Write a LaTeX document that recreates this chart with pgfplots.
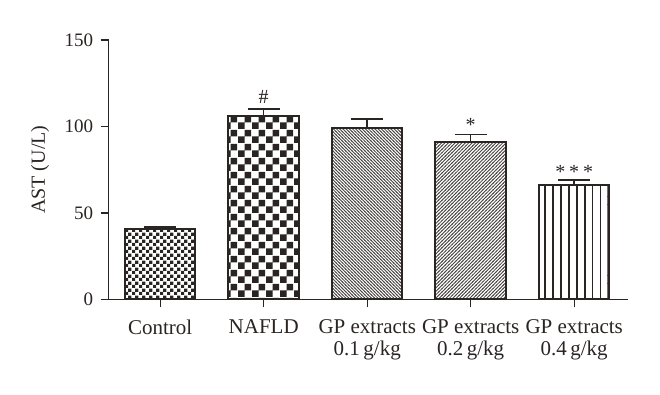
\documentclass[border=0pt]{standalone}
\usepackage{pgfplots}
\pgfplotsset{compat=1.18}
\usepackage{fontspec}
\setmainfont{Liberation Serif}
\usetikzlibrary{patterns.meta}
\definecolor{ink}{HTML}{2A2422}

\pgfdeclarepattern{
  name=finecheck, type=uncolored,
  bottom left={\pgfpoint{0pt}{0pt}},
  top right={\pgfpoint{6.6pt}{6.6pt}},
  tile size={\pgfpoint{6.6pt}{6.6pt}},
  code={
    \pgfpathrectangle{\pgfpoint{0pt}{0pt}}{\pgfpoint{3.3pt}{3.3pt}}
    \pgfpathrectangle{\pgfpoint{3.3pt}{3.3pt}}{\pgfpoint{3.3pt}{3.3pt}}
    \pgfusepath{fill}
  }
}
\pgfdeclarepattern{
  name=coarsecheck, type=uncolored,
  bottom left={\pgfpoint{0pt}{0pt}},
  top right={\pgfpoint{14pt}{14pt}},
  tile size={\pgfpoint{14pt}{14pt}},
  code={
    \pgfpathrectangle{\pgfpoint{0pt}{0pt}}{\pgfpoint{7pt}{7pt}}
    \pgfpathrectangle{\pgfpoint{7pt}{7pt}}{\pgfpoint{7pt}{7pt}}
    \pgfusepath{fill}
  }
}
\pgfdeclarepattern{
  name=diagNW, type=uncolored,
  bottom left={\pgfpoint{-1pt}{-1pt}},
  top right={\pgfpoint{4.2pt}{4.2pt}},
  tile size={\pgfpoint{3.2pt}{3.2pt}},
  code={
    \pgfsetlinewidth{0.85pt}
    \pgfpathmoveto{\pgfpoint{-0.5pt}{3.7pt}}
    \pgfpathlineto{\pgfpoint{3.7pt}{-0.5pt}}
    \pgfusepath{stroke}
  }
}
\pgfdeclarepattern{
  name=diagNE, type=uncolored,
  bottom left={\pgfpoint{-1pt}{-1pt}},
  top right={\pgfpoint{4.4pt}{4.4pt}},
  tile size={\pgfpoint{3.4pt}{3.4pt}},
  code={
    \pgfsetlinewidth{0.85pt}
    \pgfpathmoveto{\pgfpoint{-0.5pt}{-0.5pt}}
    \pgfpathlineto{\pgfpoint{3.9pt}{3.9pt}}
    \pgfusepath{stroke}
  }
}
\pgfdeclarepattern{
  name=vlines, type=uncolored,
  bottom left={\pgfpoint{-1pt}{0pt}},
  top right={\pgfpoint{7pt}{7.9pt}},
  tile size={\pgfpoint{7.9pt}{7.9pt}},
  code={
    \pgfsetlinewidth{1.8pt}
    \pgfpathmoveto{\pgfpoint{0pt}{-0.1pt}}
    \pgfpathlineto{\pgfpoint{0pt}{8pt}}
    \pgfusepath{stroke}
  }
}

\pgfplotsset{
  mybar/.style={ybar, bar shift=0pt, bar width=70.5pt, draw=ink, line width=2pt,
    error bars/y dir=plus, error bars/y explicit,
    error bars/error bar style={line width=1.5pt, ink},
    error bars/error mark options={line width=1.5pt, ink, mark size=16pt, rotate=90}},
}

\begin{document}
\begin{tikzpicture}
\begin{axis}[
  scale only axis,
  width=519pt, height=259.3pt,
  xmin=-0.498, xmax=4.517,
  ymin=0, ymax=150,
  axis x line=bottom, axis y line=left,
  axis line style={-, ink, line width=1.4pt},
  every tick/.style={ink, line width=1.4pt},
  tick align=outside, major tick length=8pt,
  ytick={0,50,100,150},
  xtick={0,1,2,3,4},
  xticklabels={Control, NAFLD, {GP extracts\\0.1\,g/kg}, {GP extracts\\0.2\,g/kg}, {GP extracts\\0.4\,g/kg}},
  x tick label style={align=center, font=\fontsize{21}{21.5}\selectfont, text=ink, anchor=north, yshift=-9pt},
  y tick label style={font=\fontsize{19}{20}\selectfont, text=ink, xshift=-4pt},
  /pgf/number format/assume math mode=true,
  ylabel={AST (U/L)},
  ylabel style={font=\fontsize{20}{20}\selectfont, text=ink, at={(axis description cs:-0.132,0.5)}, anchor=center},
  clip=false,
]
\addplot[mybar, pattern={finecheck}, pattern color=ink] coordinates {(0,40.5) +- (0,1.2)};
\addplot[mybar, pattern={coarsecheck}, pattern color=ink] coordinates {(1,106.0) +- (0,4.0)};
\addplot[mybar, pattern={diagNW}, pattern color=ink!85] coordinates {(2,99.0) +- (0,5.4)};
\addplot[mybar, pattern={diagNE}, pattern color=ink!85] coordinates {(3,91.1) +- (0,4.2)};
\addplot[mybar, pattern={vlines}, pattern color=ink] coordinates {(4,66.0) +- (0,2.9)};
\addplot[only marks, mark=none, nodes near coords, point meta=explicit symbolic,
  every node near coord/.style={font=\fontsize{20}{20}\selectfont, text=ink, anchor=center}]
  coordinates {(1,117.3)[\#] (3,101.0)[*] (4,73.8)[*\hspace{3.8pt}*\hspace{3.8pt}*]};
\end{axis}
\path[use as bounding box] (-108.7pt,-94.7pt) rectangle (551.3pt,299.3pt);
\end{tikzpicture}
\end{document}
